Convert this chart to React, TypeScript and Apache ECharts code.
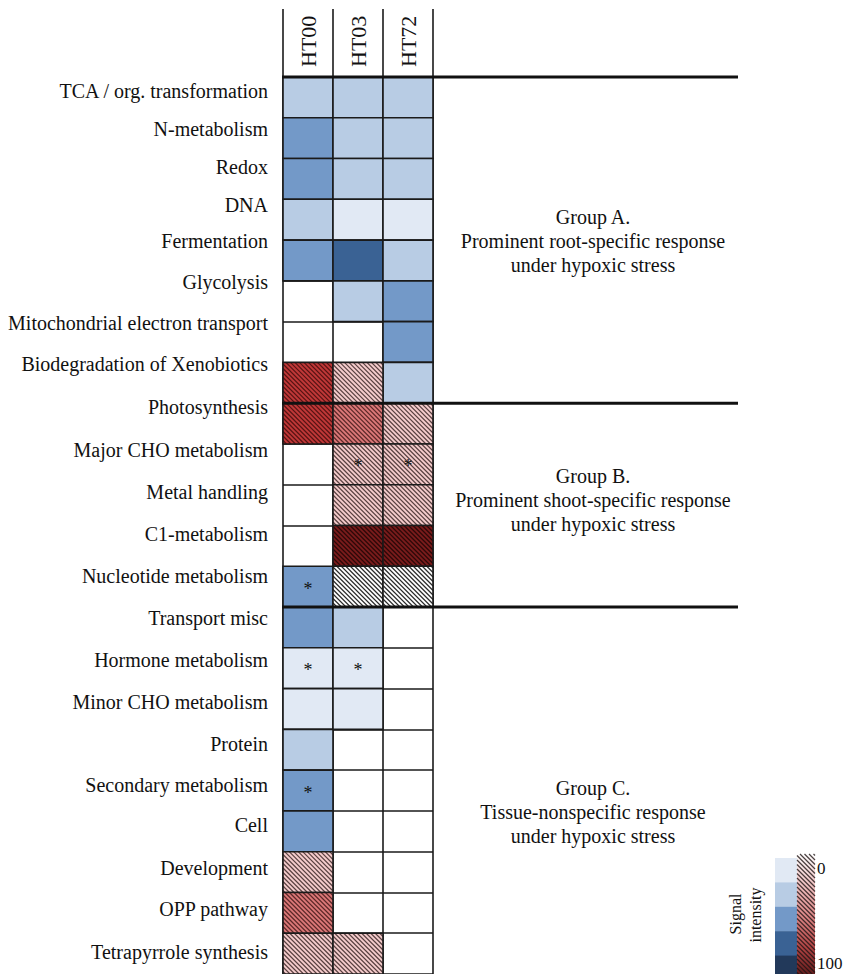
import React, { useEffect, useRef } from 'react';
import * as echarts from 'echarts';

// ---------- data ----------
const categories = [
  'TCA / org. transformation', 'N-metabolism', 'Redox', 'DNA', 'Fermentation', 'Glycolysis',
  'Mitochondrial electron transport', 'Biodegradation of Xenobiotics', 'Photosynthesis',
  'Major CHO metabolism', 'Metal handling', 'C1-metabolism', 'Nucleotide metabolism',
  'Transport misc', 'Hormone metabolism', 'Minor CHO metabolism', 'Protein',
  'Secondary metabolism', 'Cell', 'Development', 'OPP pathway', 'Tetrapyrrole synthesis',
];
const timepoints = ['HT00', 'HT03', 'HT72'];

// signal intensity (0-100) of solid (blue) cells, null = no solid cell
const solidHT00 = [30, 50, 50, 30, 50, null, null, null, null, null, null, null, 50, 50, 10, 10, 30, 50, 50, null, null, null];
const solidHT03 = [30, 30, 30, 10, 70, 30, null, null, null, null, null, null, null, 30, 10, 10, null, null, null, null, null, null];
const solidHT72 = [30, 30, 30, 10, 30, 50, 50, 30, null, null, null, null, null, null, null, null, null, null, null, null, null, null];
// signal intensity (0-100) of hatched (red) cells, null = no hatched cell
const hatchHT00 = [null, null, null, null, null, null, null, 70, 70, null, null, null, null, null, null, null, null, null, null, 30, 50, 30];
const hatchHT03 = [null, null, null, null, null, null, null, 30, 50, 30, 30, 90, 10, null, null, null, null, null, null, null, null, 30];
const hatchHT72 = [null, null, null, null, null, null, null, null, 30, 30, 30, 90, 10, null, null, null, null, null, null, null, null, null];
// cells marked with an asterisk
const starHT00 = ['Nucleotide metabolism', 'Hormone metabolism', 'Secondary metabolism'];
const starHT03 = ['Major CHO metabolism', 'Hormone metabolism'];
const starHT72 = ['Major CHO metabolism'];

const groupStarts = [0, 8, 13];
const groupTitles = ['Group A.', 'Group B.', 'Group C.'];
const groupNotes = ['Prominent root-specific response', 'Prominent shoot-specific response', 'Tissue-nonspecific response'];
const groupCondition = 'under hypoxic stress';
const legendTicks = ['0', '100'];

// ---------- styles ----------
const FONT = "'Liberation Serif', 'Times New Roman', serif";
const bluePalette = ['#e1e9f4', '#b8cce4', '#7399c8', '#3a6294', '#22395a'];
const redPalette = ['#ffffff', '#f5cccc', '#dc7878', '#c03838', '#7a1c1c'];
const hatchInk = ['rgba(20,20,20,0.9)', 'rgba(50,30,30,0.8)', 'rgba(60,20,20,0.8)', 'rgba(60,10,10,0.8)', 'rgba(30,5,5,0.85)'];
const labelLift = [6, 9.5, 12, 14.5, 19, 19.5, 19, 18.5, 16.5, 14, 13, 12, 10.5, 9, 8, 7, 5.5, 6, 6, 4, 3.5, 2];
const groupTextY = [241, 500, 812];
const HATCH = 4.5;

function pieces(palette: string[]) {
  return palette.map((c, i) => ({ gte: i * 20, lt: i === palette.length - 1 ? 101 : (i + 1) * 20, color: c }));
}

function hatchLines(x0: number, y0: number, w: number, h: number, stroke: string, lw: number) {
  const out: any[] = [];
  let K = Math.ceil((y0 - x0 - w) / HATCH) * HATCH;
  for (; K - y0 + x0 <= h; K += HATCH) {
    const k = K - y0 + x0;
    const xs = Math.max(0, -k);
    const xe = Math.min(w, h - k);
    if (xe - xs > 0.3) {
      out.push({
        type: 'line',
        shape: { x1: x0 + xs, y1: y0 + xs + k, x2: x0 + xe, y2: y0 + xe + k },
        style: { stroke, lineWidth: lw },
        silent: true,
      });
    }
  }
  return out;
}

function buildData(cols: (number | null)[][], stars: string[][]) {
  const d: any[] = [];
  cols.forEach((arr, ci) => {
    arr.forEach((v, ri) => {
      if (v !== null && v !== undefined) {
        d.push([ci, ri, v, stars[ci].indexOf(categories[ri]) >= 0 ? 1 : 0]);
      }
    });
  });
  return d;
}

function cellRenderer(hatched: boolean) {
  return (params: any, api: any) => {
    const c = api.coord([api.value(0), api.value(1)]);
    const s = api.size([1, 1]);
    const w = s[0];
    const h = s[1];
    const x0 = c[0] - w / 2;
    const y0 = c[1] - h / 2;
    const fill = api.visual('color');
    const children: any[] = [
      { type: 'rect', shape: { x: x0, y: y0, width: w, height: h }, style: { fill, stroke: null } },
    ];
    if (hatched) {
      const v = api.value(2);
      const bin = Math.min(4, Math.floor(v / 20));
      children.push(...hatchLines(x0, y0, w, h, hatchInk[bin], 1.2));
    }
    children.push({
      type: 'rect',
      shape: { x: x0, y: y0, width: w, height: h },
      style: { fill: null, stroke: '#1a1a1a', lineWidth: 1.6 },
    });
    if (api.value(3) === 1) {
      children.push({
        type: 'text',
        style: {
          text: '*', x: c[0], y: c[1] + 2, fill: '#111', fontSize: 18, fontFamily: FONT,
          align: 'center', verticalAlign: 'middle',
        },
      });
    }
    return { type: 'group', children };
  };
}

// category labels, drawn at the rows of the category axis
function labelRenderer(params: any, api: any) {
  const i = api.value(1);
  const c = api.coord([0, i]);
  const w = api.size([1, 1])[0];
  return {
    type: 'text',
    style: {
      text: categories[i], x: c[0] - w / 2 - 15, y: c[1] - labelLift[i],
      fill: '#111', fontSize: 20, fontFamily: FONT, align: 'right', verticalAlign: 'middle',
    },
  };
}

function frameRenderer(params: any, api: any) {
  const s = api.size([1, 1]);
  const w = s[0];
  const h = s[1];
  const first = api.coord([0, 0]);
  const left = first[0] - w / 2;
  const top = first[1] - h / 2;
  const right = left + w * timepoints.length;
  const children: any[] = [];
  for (let i = 0; i <= timepoints.length; i++) {
    const x = left + i * w;
    children.push({ type: 'line', shape: { x1: x, y1: 9, x2: x, y2: top }, style: { stroke: '#1a1a1a', lineWidth: 1.6 } });
  }
  groupStarts.forEach((r) => {
    const y = api.coord([0, r])[1] - h / 2;
    children.push({ type: 'line', shape: { x1: left - 1, y1: y, x2: right + 305, y2: y }, style: { stroke: '#111', lineWidth: 3 } });
  });
  return { type: 'group', children };
}

const txt = (text: string, x: number, y: number, size: number, align: string, rot = 0) => ({
  type: 'text', x, y, rotation: rot,
  style: { text, fontSize: size, fontFamily: FONT, fill: '#111', align, verticalAlign: 'middle', textAlign: align, textVerticalAlign: 'middle' },
});

function legendGraphics() {
  const els: any[] = [];
  const bx = 775, rx = 797, top = 858, bh = 24.4;
  bluePalette.forEach((c, i) => {
    els.push({ type: 'rect', shape: { x: bx, y: top + i * bh, width: 22, height: bh + 0.5 }, style: { fill: c } });
  });
  els.push({
    type: 'rect', shape: { x: rx, y: 854, width: 18, height: 126 },
    style: {
      fill: new echarts.graphic.LinearGradient(0, 0, 0, 1, [
        { offset: 0, color: '#ffffff' },
        { offset: 0.22, color: '#f2c8c8' },
        { offset: 0.5, color: '#dc8686' },
        { offset: 0.75, color: '#b04242' },
        { offset: 1, color: '#501414' },
      ]),
    },
  });
  hatchLines(rx, 854, 18, 126, 'rgba(30,20,20,0.8)', 1.2).forEach((l) => els.push(l));
  els.push(txt(legendTicks[0], 817, 868, 17, 'left'));
  els.push(txt(legendTicks[1], 817, 963, 17, 'left'));
  els.push(txt('Signal', 735, 914, 16, 'center', Math.PI / 2));
  els.push(txt('intensity', 755, 915, 16, 'center', Math.PI / 2));
  return els;
}

function groupGraphics() {
  const els: any[] = [];
  groupTitles.forEach((t, i) => {
    const y = groupTextY[i];
    els.push(txt(t, 593, y - 24, 20, 'center'));
    els.push(txt(groupNotes[i], 593, y, 20, 'center'));
    els.push(txt(groupCondition, 593, y + 24, 20, 'center'));
  });
  return els;
}

export default function App() {
  const ref = useRef<HTMLDivElement>(null);
  useEffect(() => {
    if (!ref.current) return;
    const chart = echarts.init(ref.current, null, { renderer: 'svg' });
    const solidData = buildData([solidHT00, solidHT03, solidHT72], [starHT00, starHT03, starHT72]);
    const hatchData = buildData([hatchHT00, hatchHT03, hatchHT72], [starHT00, starHT03, starHT72]);
    const option: any = {
      animation: false,
      backgroundColor: '#ffffff',
      textStyle: { fontFamily: FONT },
      grid: { left: 283, top: 77, width: 150, height: 41 * categories.length },
      xAxis: {
        type: 'category',
        position: 'top',
        data: timepoints,
        axisLine: { show: false },
        axisTick: { show: false },
        splitLine: { show: true, lineStyle: { color: '#1a1a1a', width: 1.6 } },
        axisLabel: { rotate: -90, margin: 10, fontSize: 22, fontFamily: FONT, color: '#111' },
      },
      yAxis: {
        type: 'category',
        inverse: true,
        data: categories,
        axisLine: { show: false },
        axisTick: { show: false },
        splitLine: { show: true, lineStyle: { color: '#1a1a1a', width: 1.6 } },
        axisLabel: { show: false },
      },
      visualMap: [
        { type: 'piecewise', show: false, seriesIndex: 0, dimension: 2, pieces: pieces(bluePalette) },
        { type: 'piecewise', show: false, seriesIndex: 1, dimension: 2, pieces: pieces(redPalette) },
      ],
      series: [
        { type: 'custom', name: 'solid', renderItem: cellRenderer(false), data: solidData, encode: { x: 0, y: 1 }, z: 2 },
        { type: 'custom', name: 'hatched', renderItem: cellRenderer(true), data: hatchData, encode: { x: 0, y: 1 }, z: 2 },
        { type: 'custom', name: 'frame', renderItem: frameRenderer, data: [[0, 0]], encode: { x: 0, y: 1 }, z: 5, silent: true },
        { type: 'custom', name: 'labels', renderItem: labelRenderer, data: categories.map((_, i) => [0, i]), encode: { x: 0, y: 1 }, z: 5, silent: true },
      ],
      graphic: [...groupGraphics(), ...legendGraphics()],
    };
    chart.setOption(option);
    return () => chart.dispose();
  }, []);
  return <div ref={ref} style={{ position: 'absolute', left: 0, top: 0, width: 859, height: 974 }} />;
}
